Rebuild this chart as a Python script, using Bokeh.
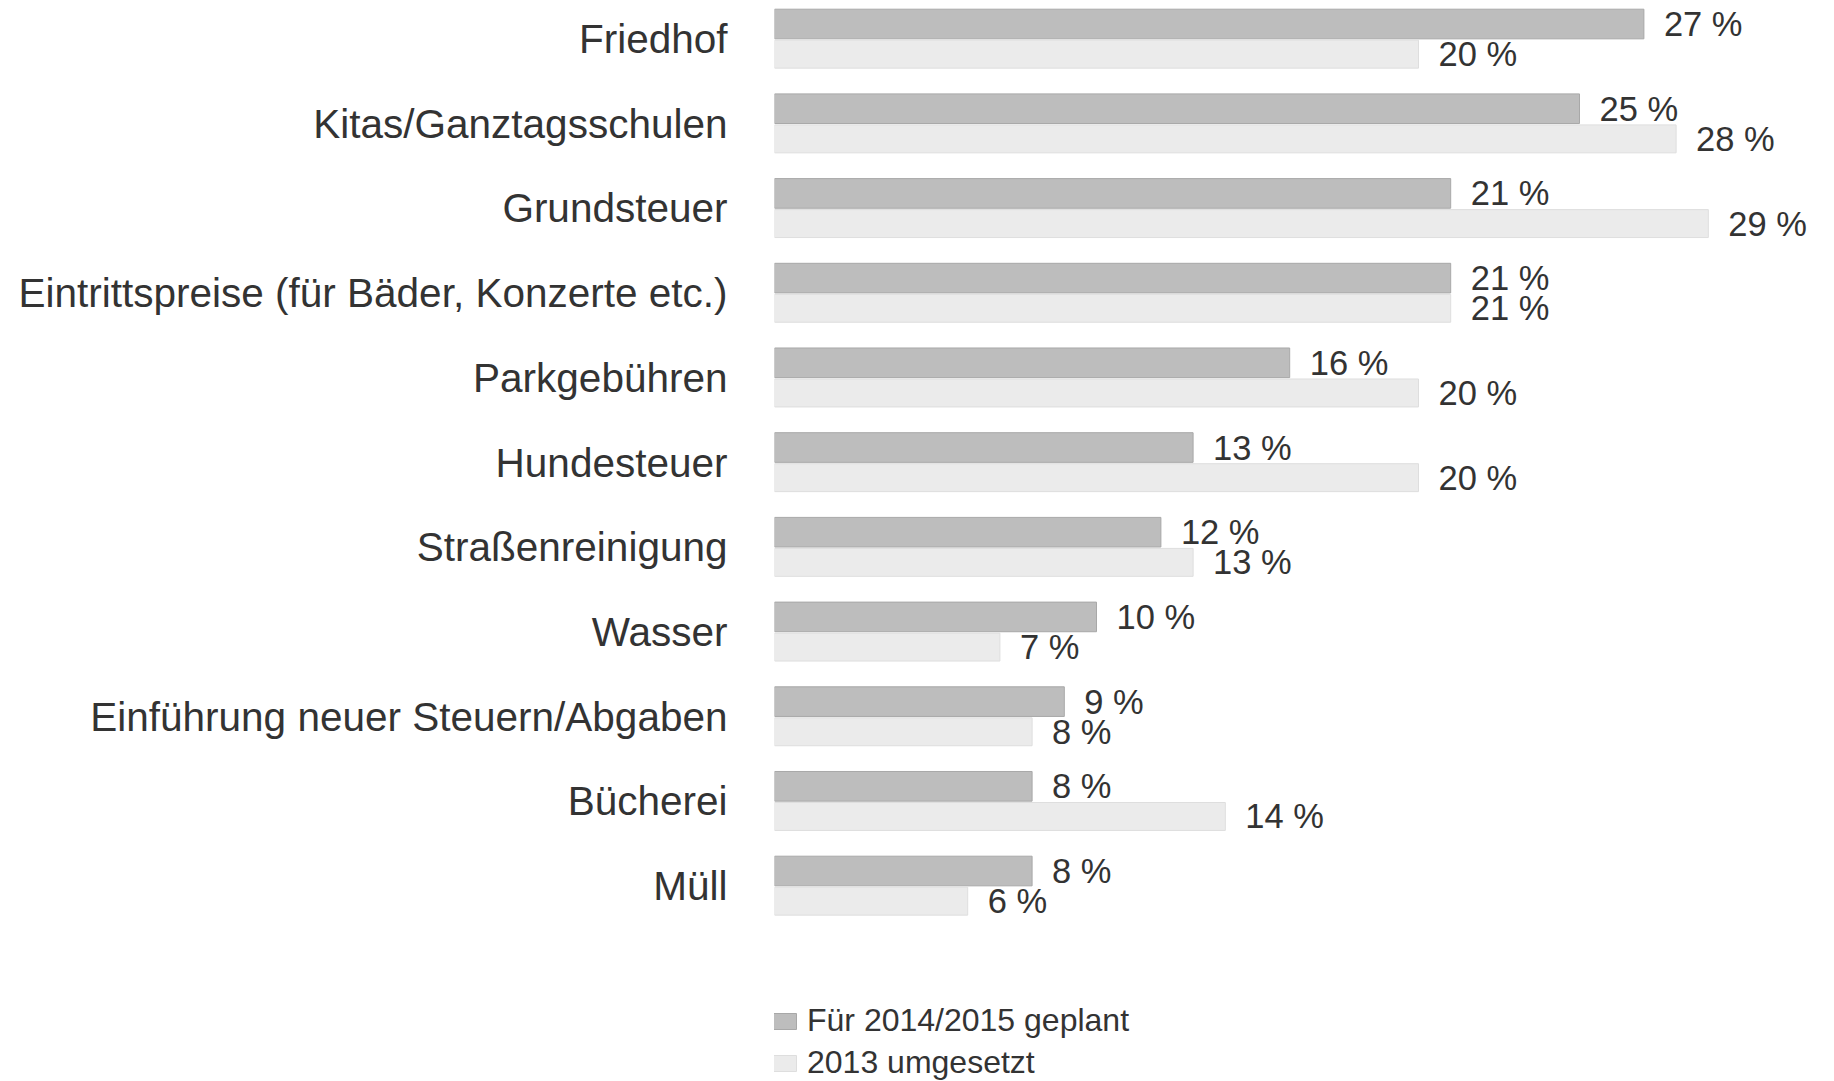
from bokeh.plotting import figure
from bokeh.models import Range1d, FixedTicker, Legend, LegendItem, ColumnDataSource
from bokeh.transform import dodge
from bokeh.embed import file_html
from bokeh.resources import INLINE
from bokeh.core.properties import value

categories = [
    "Friedhof",
    "Kitas/Ganztagsschulen",
    "Grundsteuer",
    "Eintrittspreise (für Bäder, Konzerte etc.)",
    "Parkgebühren",
    "Hundesteuer",
    "Straßenreinigung",
    "Wasser",
    "Einführung neuer Steuern/Abgaben",
    "Bücherei",
    "Müll",
]
planned_2014_2015 = [27, 25, 21, 21, 16, 13, 12, 10, 9, 8, 8]
implemented_2013 = [20, 28, 29, 21, 20, 20, 13, 7, 8, 14, 6]
series_names = ["Für 2014/2015 geplant", "2013 umgesetzt"]

FONT = "Liberation Sans"
DARK = "#bdbdbd"
DARK_LINE = "#a8a8a8"
LIGHT = "#ebebeb"
LIGHT_LINE = "#dedede"
TEXT = "#333333"

positions = list(range(len(categories)))
src = ColumnDataSource(dict(
    pos=positions,
    cat=categories,
    planned=planned_2014_2015,
    impl=implemented_2013,
    planned_lbl=[f"{v} %" for v in planned_2014_2015],
    impl_lbl=[f"{v} %" for v in implemented_2013],
))

W, H = 1830, 1081
p = figure(
    width=W, height=H,
    output_backend="svg", toolbar_location=None,
    x_range=Range1d(0, 32.795),
    y_range=Range1d(12.307, -0.4557),
    x_axis_location=None,
    min_border_left=774, min_border_right=0, min_border_top=0, min_border_bottom=0,
)
p.outline_line_color = None
p.xgrid.visible = False
p.ygrid.visible = False

off = 0.178
r_dark = p.hbar(y=dodge("pos", -off), right="planned", left=0, height=0.35, source=src,
                fill_color=DARK, line_color=DARK_LINE, line_width=1)
r_light = p.hbar(y=dodge("pos", off), right="impl", left=0, height=0.33, source=src,
                 fill_color=LIGHT, line_color=LIGHT_LINE, line_width=1)

p.text(x="planned", y=dodge("pos", -off), text="planned_lbl", source=src, x_offset=20,
       text_baseline="middle", text_align="left", text_font=value(FONT),
       text_font_size="34.5px", text_color=TEXT)
p.text(x="impl", y=dodge("pos", off), text="impl_lbl", source=src, x_offset=20,
       text_baseline="middle", text_align="left", text_font=value(FONT),
       text_font_size="34.5px", text_color=TEXT)

ax = p.yaxis[0]
ax.ticker = FixedTicker(ticks=positions)
ax.major_label_overrides = {i: c for i, c in zip(positions, categories)}
ax.major_label_text_font = FONT
ax.major_label_text_font_size = "40.5px"
ax.major_label_text_color = TEXT
ax.major_label_standoff = 47
ax.major_tick_out = 0
ax.major_tick_in = 0
ax.minor_tick_out = 0
ax.minor_tick_in = 0
ax.axis_line_color = None
ax.major_tick_line_color = None
ax.minor_tick_line_color = None

legend = Legend(
    items=[LegendItem(label=series_names[0], renderers=[r_dark]),
           LegendItem(label=series_names[1], renderers=[r_light])],
    location=(-5, 0), orientation="vertical",
    glyph_width=30, glyph_height=20, label_height=26, spacing=5,
    padding=0, margin=0, label_standoff=8,
    label_text_font=FONT, label_text_font_size="32px", label_text_color=TEXT,
    border_line_color=None, background_fill_alpha=0,
)
p.add_layout(legend)

open("out.html", "w").write(file_html(p, INLINE))
